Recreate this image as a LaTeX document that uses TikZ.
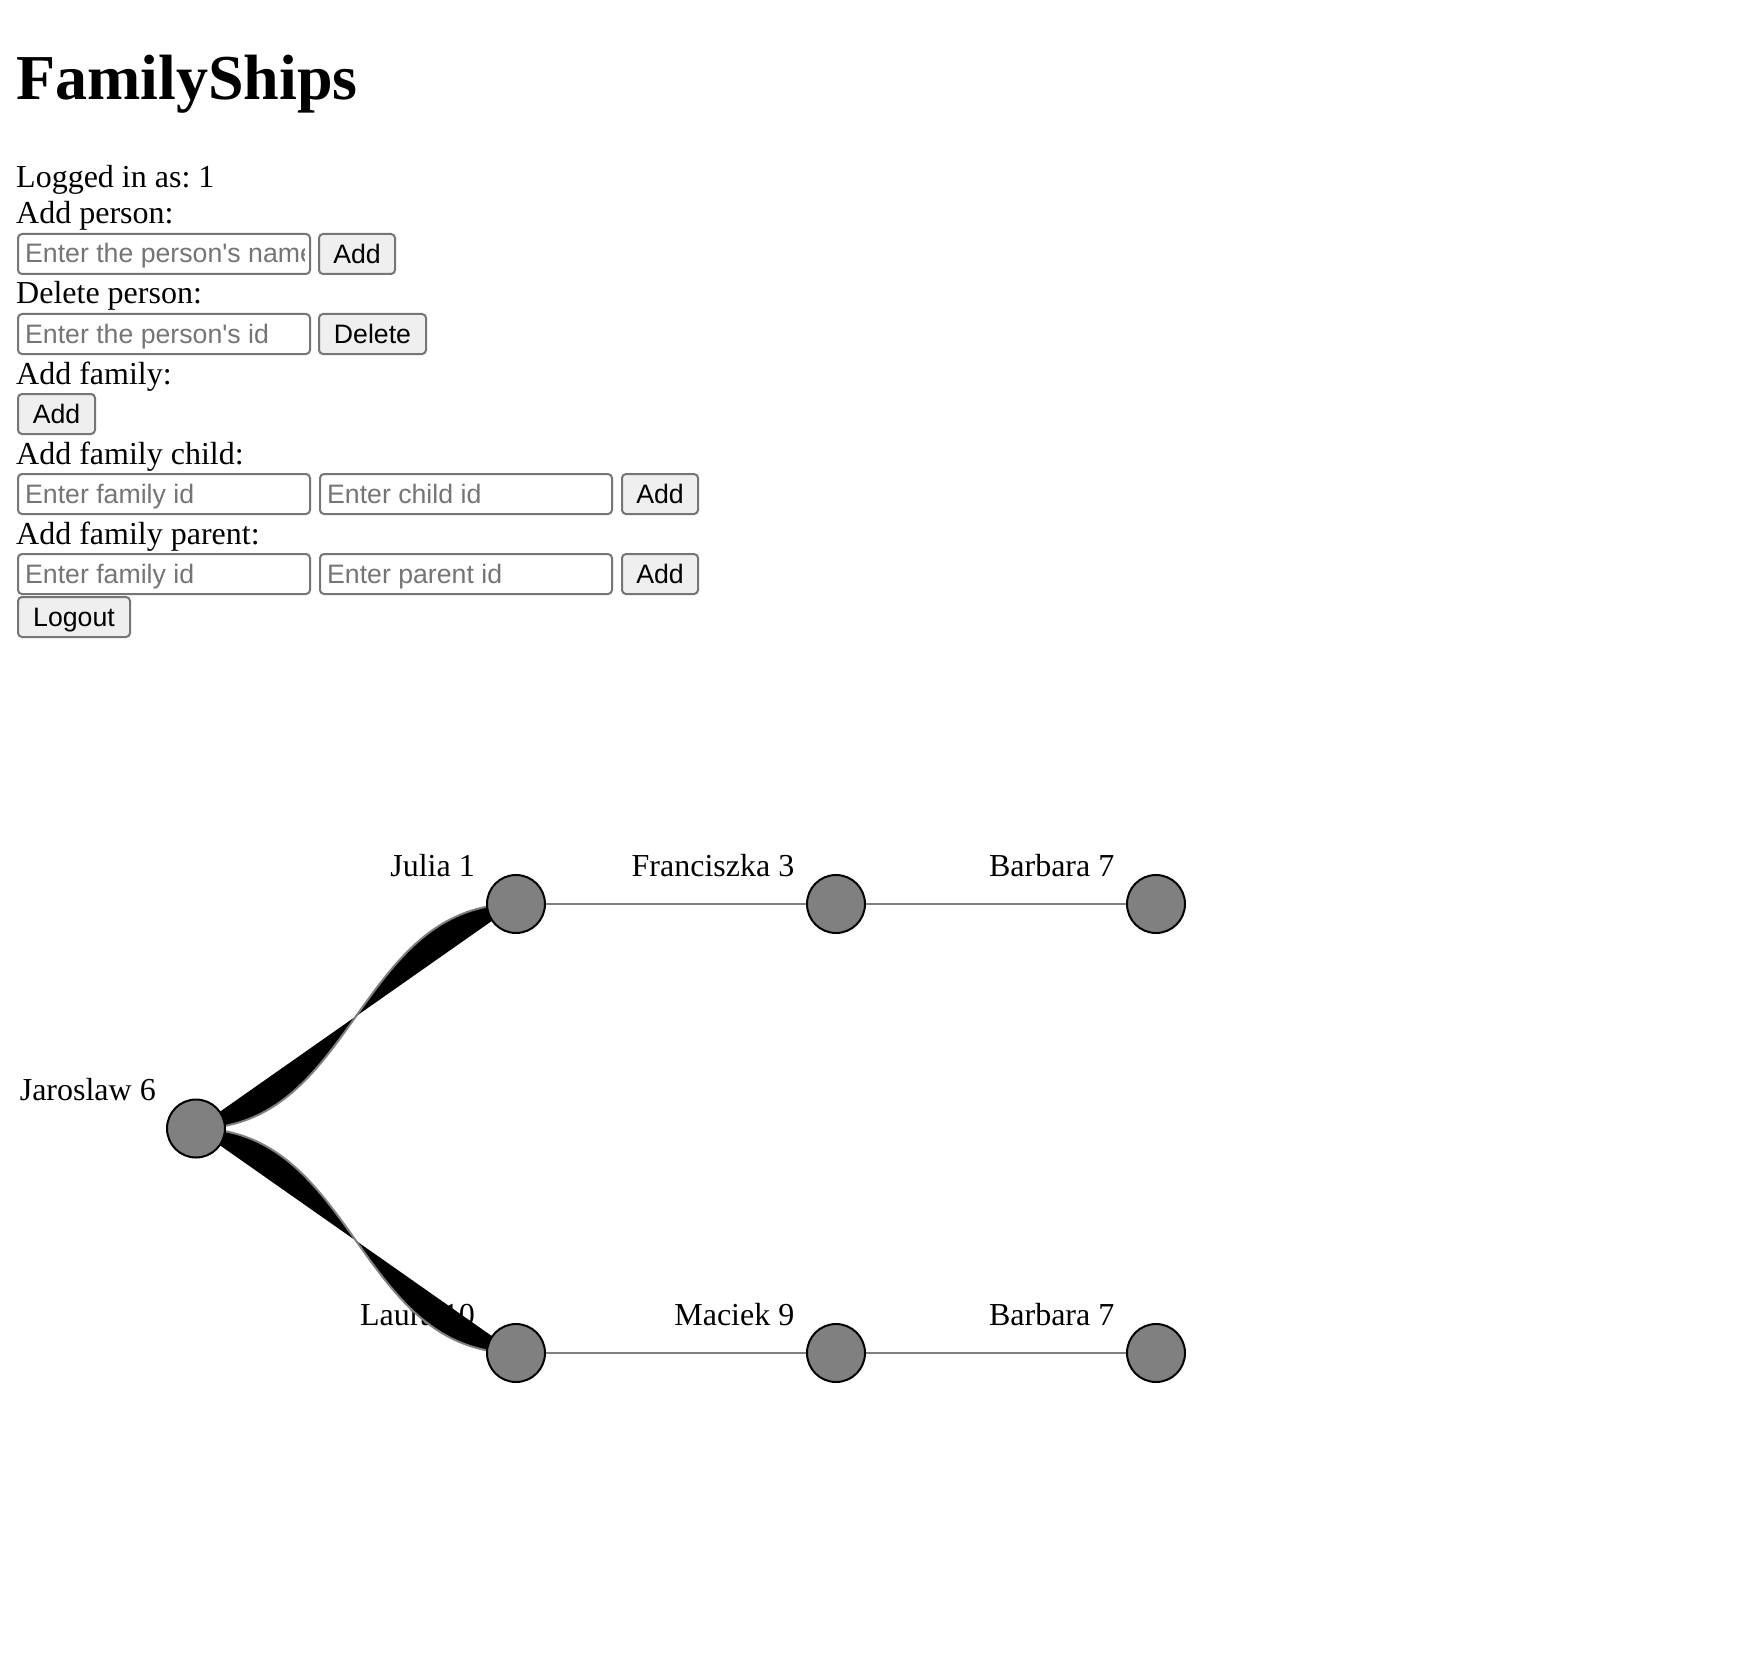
\documentclass[tikz,border=0pt]{standalone}
\usepackage{fontspec}
\setmainfont{Liberation Serif}
\newfontfamily\uisans{Liberation Sans}
\usetikzlibrary{calc}
\frenchspacing
\definecolor{nodegray}{HTML}{808080}
\definecolor{linkgray}{HTML}{808080}
\definecolor{uiborder}{HTML}{767676}
\definecolor{btnfill}{HTML}{EFEFEF}
\definecolor{phgray}{HTML}{757575}
\pgfdeclarelayer{paper}
\pgfdeclarelayer{bg}
\pgfsetlayers{paper,bg,main}
\tikzset{
  pagetext/.style={anchor=base west, inner sep=0pt, font=\fontsize{32}{38}\selectfont},
  titletext/.style={anchor=base west, inner sep=0pt, font=\fontsize{64}{74}\selectfont\bfseries},
  field/.style={draw=uiborder, line width=2pt, rounded corners=4pt, minimum height=40pt, inner sep=0pt, anchor=north west},
  btn/.style={draw=uiborder, fill=btnfill, line width=2pt, rounded corners=4pt, minimum height=40pt, inner sep=0pt, anchor=north west,
    text height=19pt, text depth=0pt, font=\uisans\fontsize{26.67}{32}\selectfont},
  ph/.style={anchor=base west, inner sep=0pt, text=phgray, font=\uisans\fontsize{26.67}{32}\selectfont},
  person/.style={circle, fill=nodegray, draw=black, line width=2pt, minimum size=58pt, inner sep=0pt},
  plabel/.style={anchor=base east, inner sep=0pt, font=\fontsize{32}{38}\selectfont},
  famline/.style={draw=linkgray, line width=2pt},
  linkfill/.style={fill=black},
  linkedge/.style={draw=linkgray, line width=2pt}
}
\begin{document}
\begin{tikzpicture}[x=1pt, y=-1pt]
\begin{pgfonlayer}{paper}
  \fill[white] (0,0) rectangle (1752,1669);
\end{pgfonlayer}
\useasboundingbox (0,0) rectangle (1752,1669);

% ---- page text ----
\node[titletext] (title) at (16,100) {FamilyShips};
\node[pagetext] (logged) at (16,188) {Logged in as: 1};
\node[pagetext] (laddp) at (16,224) {Add person:};
\node[pagetext] (ldelp) at (16,304) {Delete person:};
\node[pagetext] (laddf) at (16,384) {Add family:};
\node[pagetext] (laddc) at (16,464) {Add family child:};
\node[pagetext] (laddpar) at (16,544) {Add family parent:};

% ---- form controls ----
\node[field, minimum width=292pt] (in1) at (17,233) {};
\begin{scope}
  \clip (18,234) rectangle (304,272);
  \node[ph] (ph1) at ($(in1.south west)+(8,-12)$) {Enter the person's name};
\end{scope}
\node[btn, minimum width=76pt] (b1) at (318,233) {Add};

\node[field, minimum width=292pt] (in2) at (17,313) {};
\node[ph] (ph2) at ($(in2.south west)+(8,-12)$) {Enter the person's id};
\node[btn, minimum width=107pt] (b2) at (318,313) {Delete};

\node[btn, minimum width=77pt] (b3) at (17,393) {Add};

\node[field, minimum width=292pt] (in3) at (17,473) {};
\node[ph] (ph3) at ($(in3.south west)+(8,-12)$) {Enter family id};
\node[field, minimum width=292pt] (in4) at (319,473) {};
\node[ph] (ph4) at ($(in4.south west)+(8,-12)$) {Enter child id};
\node[btn, minimum width=76pt] (b4) at (621,473) {Add};

\node[field, minimum width=292pt] (in5) at (17,553) {};
\node[ph] (ph5) at ($(in5.south west)+(8,-12)$) {Enter family id};
\node[field, minimum width=292pt] (in6) at (319,553) {};
\node[ph] (ph6) at ($(in6.south west)+(8,-12)$) {Enter parent id};
\node[btn, minimum width=76pt] (b5) at (621,553) {Add};

\node[btn, minimum width=112pt] (b6) at (17,596) {Logout};

% ---- family graph ----
\node[person] (jar) at (196,1128.5) {};
\node[person] (jul) at (516,904) {};
\node[person] (fra) at (836,904) {};
\node[person] (bar1) at (1156,904) {};
\node[person] (lau) at (516,1353) {};
\node[person] (mac) at (836,1353) {};
\node[person] (bar2) at (1156,1353) {};

\begin{pgfonlayer}{bg}
  \node[plabel] (ljar) at ($(jar.center)+(-40,-28)$) {Jaroslaw 6};
  \node[plabel] (ljul) at ($(jul.center)+(-41,-28)$) {Julia 1};
  \node[plabel] (lfra) at ($(fra.center)+(-41.5,-28)$) {Franciszka 3};
  \node[plabel] (lbar1) at ($(bar1.center)+(-41.5,-28)$) {Barbara 7};
  \node[plabel] (llau) at ($(lau.center)+(-41,-28)$) {Laura 10};
  \node[plabel] (lmac) at ($(mac.center)+(-41.5,-28)$) {Maciek 9};
  \node[plabel] (lbar2) at ($(bar2.center)+(-41.5,-28)$) {Barbara 7};

  \coordinate (m1) at ($(jar.center)!0.5!(jul.center)$);
  \coordinate (m2) at ($(jar.center)!0.5!(lau.center)$);
  \fill[linkfill] (jar.center) .. controls (m1 |- jar.center) and (m1 |- jul.center) .. (jul.center) -- cycle;
  \draw[linkedge] (jar.center) .. controls (m1 |- jar.center) and (m1 |- jul.center) .. (jul.center);
  \fill[linkfill] (jar.center) .. controls (m2 |- jar.center) and (m2 |- lau.center) .. (lau.center) -- cycle;
  \draw[linkedge] (jar.center) .. controls (m2 |- jar.center) and (m2 |- lau.center) .. (lau.center);

  \draw[famline] (jul.center) -- (fra.center);
  \draw[famline] (fra.center) -- (bar1.center);
  \draw[famline] (lau.center) -- (mac.center);
  \draw[famline] (mac.center) -- (bar2.center);
\end{pgfonlayer}
\end{tikzpicture}
\end{document}
